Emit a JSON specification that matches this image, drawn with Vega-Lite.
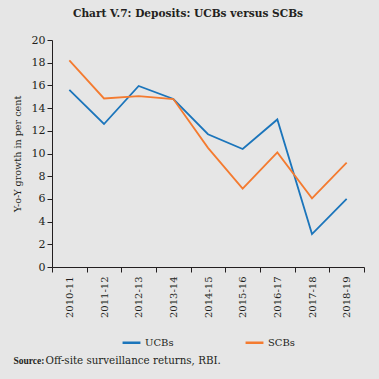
{
  "$schema": "https://vega.github.io/schema/vega-lite/v6.json",
  "width": 312,
  "height": 227,
  "autosize": {"type": "none"},
  "padding": {"left": 52, "top": 40, "right": 15, "bottom": 112},
  "background": "#e6e6e6",
  "config": {
    "view": {"stroke": null},
    "font": "DejaVu Serif"
  },
  "title": {
    "text": "Chart V.7: Deposits: UCBs versus SCBs",
    "font": "DejaVu Serif",
    "fontSize": 10.6,
    "fontWeight": "bold",
    "anchor": "middle",
    "offset": 14,
    "dx": -20,
    "color": "#231f20"
  },
  "data": {
    "values": [
      {"period": "2010-11", "series": "UCBs", "value": 15.6},
      {"period": "2011-12", "series": "UCBs", "value": 12.6},
      {"period": "2012-13", "series": "UCBs", "value": 15.95},
      {"period": "2013-14", "series": "UCBs", "value": 14.8},
      {"period": "2014-15", "series": "UCBs", "value": 11.7},
      {"period": "2015-16", "series": "UCBs", "value": 10.4},
      {"period": "2016-17", "series": "UCBs", "value": 13.0},
      {"period": "2017-18", "series": "UCBs", "value": 2.9},
      {"period": "2018-19", "series": "UCBs", "value": 6.0},
      {"period": "2010-11", "series": "SCBs", "value": 18.2},
      {"period": "2011-12", "series": "SCBs", "value": 14.85},
      {"period": "2012-13", "series": "SCBs", "value": 15.05},
      {"period": "2013-14", "series": "SCBs", "value": 14.8},
      {"period": "2014-15", "series": "SCBs", "value": 10.5},
      {"period": "2015-16", "series": "SCBs", "value": 6.9},
      {"period": "2016-17", "series": "SCBs", "value": 10.1},
      {"period": "2017-18", "series": "SCBs", "value": 6.05},
      {"period": "2018-19", "series": "SCBs", "value": 9.2}
    ]
  },
  "layer": [
    {
      "mark": {"type": "line", "strokeWidth": 1.8},
      "encoding": {
        "x": {
          "field": "period",
          "type": "ordinal",
          "bandPosition": 0.5,
          "scale": {"type": "band", "paddingInner": 0, "paddingOuter": 0},
          "axis": {
            "orient": "bottom",
            "tickBand": "extent",
            "labelAngle": -90,
            "labelFont": "DejaVu Serif",
            "labelFontSize": 10,
            "labelColor": "#231f20",
            "labelPadding": 4,
            "domainColor": "#231f20",
            "tickColor": "#231f20",
            "tickSize": 5,
            "title": "Off-site surveillance returns, RBI.",
            "titleFont": "DejaVu Serif",
            "titleFontSize": 10.3,
            "titleFontWeight": "normal",
            "titleColor": "#231f20",
            "titleAlign": "left",
            "titleAnchor": "start",
            "titleBaseline": "alphabetic",
            "titleX": -7,
            "titleY": 96
          }
        },
        "y": {
          "field": "value",
          "type": "quantitative",
          "scale": {"domain": [0, 20]},
          "axis": {
            "values": [0, 2, 4, 6, 8, 10, 12, 14, 16, 18, 20],
            "grid": false,
            "labelFont": "DejaVu Serif",
            "labelFontSize": 11,
            "labelColor": "#231f20",
            "domainColor": "#231f20",
            "tickColor": "#231f20",
            "tickSize": 5,
            "title": "Y-o-Y growth in per cent",
            "titleFont": "DejaVu Serif",
            "titleFontSize": 9.6,
            "titleFontWeight": "normal",
            "titleColor": "#231f20",
            "titlePadding": 9
          }
        },
        "color": {
          "field": "series",
          "type": "nominal",
          "sort": ["UCBs", "SCBs"],
          "scale": {"domain": ["UCBs", "SCBs"], "range": ["#1b75bb", "#f47b30"]},
          "legend": {
            "title": null,
            "orient": "none",
            "direction": "horizontal",
            "legendX": 69,
            "legendY": 292,
            "symbolType": "stroke",
            "symbolSize": 320,
            "symbolStrokeWidth": 2.5,
            "labelFont": "DejaVu Serif",
            "labelFontSize": 10,
            "labelColor": "#231f20",
            "labelOffset": 3,
            "columnPadding": 66
          }
        }
      }
    },
    {
      "mark": {"type": "point", "opacity": 0},
      "encoding": {
        "x": {
          "field": "period",
          "type": "ordinal",
          "bandPosition": 0.5,
          "scale": {"type": "band", "paddingInner": 0, "paddingOuter": 0},
          "axis": {
            "orient": "bottom",
            "labels": false,
            "ticks": false,
            "domain": false,
            "title": "Source:",
            "titleFont": "Liberation Serif",
            "titleFontSize": 9.5,
            "titleFontWeight": "bold",
            "titleColor": "#231f20",
            "titleAlign": "left",
            "titleAnchor": "start",
            "titleBaseline": "alphabetic",
            "titleX": -39,
            "titleY": 96
          }
        }
      }
    }
  ],
  "resolve": {"axis": {"x": "independent"}}
}
